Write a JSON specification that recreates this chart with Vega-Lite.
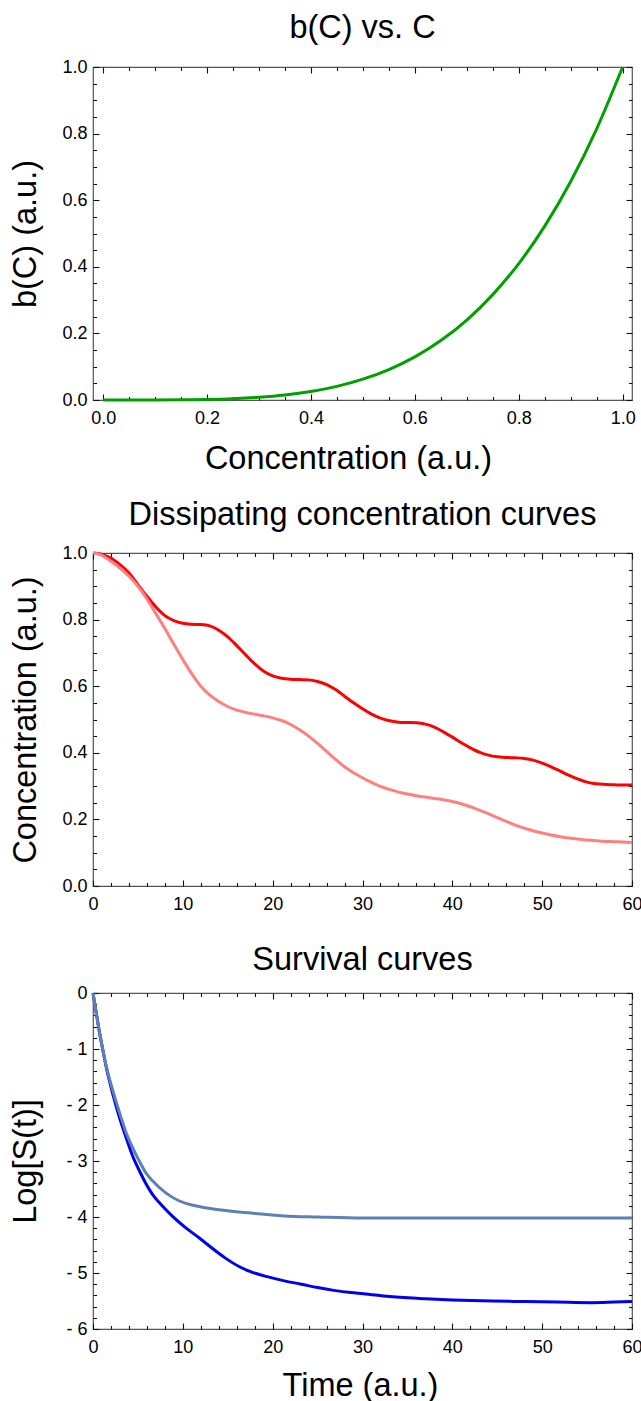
{
  "$schema": "https://vega.github.io/schema/vega-lite/v6.json",
  "padding": {"left": 9, "top": 11, "right": 0, "bottom": 0},
  "spacing": 21,
  "datasets": {
    "bc": [
      {"c": 0, "b": 0}, {"c": 0.05, "b": 0.00001}, {"c": 0.1, "b": 0.0001}, {"c": 0.15, "b": 0.0005},
      {"c": 0.2, "b": 0.0016}, {"c": 0.25, "b": 0.0039}, {"c": 0.3, "b": 0.0081}, {"c": 0.35, "b": 0.015},
      {"c": 0.4, "b": 0.0256}, {"c": 0.45, "b": 0.041}, {"c": 0.5, "b": 0.0625}, {"c": 0.55, "b": 0.0915},
      {"c": 0.6, "b": 0.1296}, {"c": 0.65, "b": 0.1785}, {"c": 0.7, "b": 0.2401}, {"c": 0.75, "b": 0.3164},
      {"c": 0.8, "b": 0.4096}, {"c": 0.85, "b": 0.522}, {"c": 0.9, "b": 0.6561}, {"c": 0.95, "b": 0.8145},
      {"c": 1.0, "b": 1.0}
    ],
    "conc": [
      {"t": 0, "v": 1.0, "s": "a"}, {"t": 1, "v": 0.996, "s": "a"}, {"t": 2, "v": 0.985, "s": "a"}, {"t": 3, "v": 0.965, "s": "a"},
      {"t": 4, "v": 0.94, "s": "a"}, {"t": 5, "v": 0.905, "s": "a"}, {"t": 6, "v": 0.87, "s": "a"}, {"t": 7, "v": 0.838, "s": "a"},
      {"t": 8, "v": 0.812, "s": "a"}, {"t": 9, "v": 0.797, "s": "a"}, {"t": 10, "v": 0.789, "s": "a"}, {"t": 11, "v": 0.786, "s": "a"},
      {"t": 12, "v": 0.785, "s": "a"}, {"t": 13, "v": 0.781, "s": "a"}, {"t": 14, "v": 0.768, "s": "a"}, {"t": 15, "v": 0.748, "s": "a"},
      {"t": 16, "v": 0.722, "s": "a"}, {"t": 17, "v": 0.694, "s": "a"}, {"t": 18, "v": 0.667, "s": "a"}, {"t": 19, "v": 0.645, "s": "a"},
      {"t": 20, "v": 0.631, "s": "a"}, {"t": 21, "v": 0.624, "s": "a"}, {"t": 22, "v": 0.621, "s": "a"}, {"t": 23, "v": 0.62, "s": "a"},
      {"t": 24, "v": 0.619, "s": "a"}, {"t": 25, "v": 0.614, "s": "a"}, {"t": 26, "v": 0.605, "s": "a"}, {"t": 27, "v": 0.59, "s": "a"},
      {"t": 28, "v": 0.57, "s": "a"}, {"t": 29, "v": 0.55, "s": "a"}, {"t": 30, "v": 0.532, "s": "a"}, {"t": 31, "v": 0.516, "s": "a"},
      {"t": 32, "v": 0.504, "s": "a"}, {"t": 33, "v": 0.496, "s": "a"}, {"t": 34, "v": 0.492, "s": "a"}, {"t": 35, "v": 0.491, "s": "a"},
      {"t": 36, "v": 0.49, "s": "a"}, {"t": 37, "v": 0.486, "s": "a"}, {"t": 38, "v": 0.477, "s": "a"}, {"t": 39, "v": 0.463, "s": "a"},
      {"t": 40, "v": 0.447, "s": "a"}, {"t": 41, "v": 0.43, "s": "a"}, {"t": 42, "v": 0.415, "s": "a"}, {"t": 43, "v": 0.402, "s": "a"},
      {"t": 44, "v": 0.393, "s": "a"}, {"t": 45, "v": 0.388, "s": "a"}, {"t": 46, "v": 0.386, "s": "a"}, {"t": 47, "v": 0.385, "s": "a"},
      {"t": 48, "v": 0.383, "s": "a"}, {"t": 49, "v": 0.378, "s": "a"}, {"t": 50, "v": 0.369, "s": "a"}, {"t": 51, "v": 0.358, "s": "a"},
      {"t": 52, "v": 0.345, "s": "a"}, {"t": 53, "v": 0.332, "s": "a"}, {"t": 54, "v": 0.321, "s": "a"}, {"t": 55, "v": 0.312, "s": "a"},
      {"t": 56, "v": 0.307, "s": "a"}, {"t": 57, "v": 0.305, "s": "a"}, {"t": 58, "v": 0.304, "s": "a"}, {"t": 59, "v": 0.303, "s": "a"},
      {"t": 60, "v": 0.303, "s": "a"},
      {"t": 0, "v": 1.0, "s": "b"}, {"t": 1, "v": 0.993, "s": "b"}, {"t": 2, "v": 0.975, "s": "b"}, {"t": 3, "v": 0.955, "s": "b"},
      {"t": 4, "v": 0.93, "s": "b"}, {"t": 5, "v": 0.9, "s": "b"}, {"t": 6, "v": 0.862, "s": "b"}, {"t": 7, "v": 0.818, "s": "b"},
      {"t": 8, "v": 0.773, "s": "b"}, {"t": 9, "v": 0.726, "s": "b"}, {"t": 10, "v": 0.68, "s": "b"}, {"t": 11, "v": 0.637, "s": "b"},
      {"t": 12, "v": 0.6, "s": "b"}, {"t": 13, "v": 0.573, "s": "b"}, {"t": 14, "v": 0.554, "s": "b"}, {"t": 15, "v": 0.539, "s": "b"},
      {"t": 16, "v": 0.528, "s": "b"}, {"t": 17, "v": 0.521, "s": "b"}, {"t": 18, "v": 0.516, "s": "b"}, {"t": 19, "v": 0.511, "s": "b"},
      {"t": 20, "v": 0.505, "s": "b"}, {"t": 21, "v": 0.497, "s": "b"}, {"t": 22, "v": 0.485, "s": "b"}, {"t": 23, "v": 0.469, "s": "b"},
      {"t": 24, "v": 0.45, "s": "b"}, {"t": 25, "v": 0.428, "s": "b"}, {"t": 26, "v": 0.404, "s": "b"}, {"t": 27, "v": 0.38, "s": "b"},
      {"t": 28, "v": 0.358, "s": "b"}, {"t": 29, "v": 0.34, "s": "b"}, {"t": 30, "v": 0.325, "s": "b"}, {"t": 31, "v": 0.311, "s": "b"},
      {"t": 32, "v": 0.299, "s": "b"}, {"t": 33, "v": 0.29, "s": "b"}, {"t": 34, "v": 0.282, "s": "b"}, {"t": 35, "v": 0.276, "s": "b"},
      {"t": 36, "v": 0.271, "s": "b"}, {"t": 37, "v": 0.267, "s": "b"}, {"t": 38, "v": 0.263, "s": "b"}, {"t": 39, "v": 0.259, "s": "b"},
      {"t": 40, "v": 0.254, "s": "b"}, {"t": 41, "v": 0.247, "s": "b"}, {"t": 42, "v": 0.238, "s": "b"}, {"t": 43, "v": 0.228, "s": "b"},
      {"t": 44, "v": 0.217, "s": "b"}, {"t": 45, "v": 0.205, "s": "b"}, {"t": 46, "v": 0.194, "s": "b"}, {"t": 47, "v": 0.183, "s": "b"},
      {"t": 48, "v": 0.174, "s": "b"}, {"t": 49, "v": 0.166, "s": "b"}, {"t": 50, "v": 0.159, "s": "b"}, {"t": 51, "v": 0.153, "s": "b"},
      {"t": 52, "v": 0.148, "s": "b"}, {"t": 53, "v": 0.144, "s": "b"}, {"t": 54, "v": 0.141, "s": "b"}, {"t": 55, "v": 0.138, "s": "b"},
      {"t": 56, "v": 0.136, "s": "b"}, {"t": 57, "v": 0.134, "s": "b"}, {"t": 58, "v": 0.133, "s": "b"}, {"t": 59, "v": 0.132, "s": "b"},
      {"t": 60, "v": 0.131, "s": "b"}
    ],
    "surv": [
      {"t": 0, "v": 0, "s": "a"}, {"t": 0.37, "v": -0.36, "s": "a"}, {"t": 0.74, "v": -0.72, "s": "a"}, {"t": 1.1, "v": -1.02, "s": "a"},
      {"t": 1.47, "v": -1.32, "s": "a"}, {"t": 2.2, "v": -1.8, "s": "a"}, {"t": 2.94, "v": -2.22, "s": "a"}, {"t": 3.68, "v": -2.58, "s": "a"},
      {"t": 4.41, "v": -2.91, "s": "a"}, {"t": 5.15, "v": -3.17, "s": "a"}, {"t": 5.88, "v": -3.4, "s": "a"}, {"t": 6.6, "v": -3.59, "s": "a"},
      {"t": 7.7, "v": -3.8, "s": "a"}, {"t": 8.8, "v": -3.98, "s": "a"}, {"t": 10.3, "v": -4.19, "s": "a"}, {"t": 11.8, "v": -4.37, "s": "a"},
      {"t": 13.2, "v": -4.55, "s": "a"}, {"t": 14.7, "v": -4.73, "s": "a"}, {"t": 16.2, "v": -4.88, "s": "a"}, {"t": 17.6, "v": -4.98, "s": "a"},
      {"t": 19.5, "v": -5.07, "s": "a"}, {"t": 21.3, "v": -5.14, "s": "a"}, {"t": 23.2, "v": -5.2, "s": "a"}, {"t": 25, "v": -5.26, "s": "a"},
      {"t": 26.8, "v": -5.31, "s": "a"}, {"t": 28.7, "v": -5.35, "s": "a"}, {"t": 30.1, "v": -5.37, "s": "a"}, {"t": 33, "v": -5.42, "s": "a"},
      {"t": 37, "v": -5.46, "s": "a"}, {"t": 40, "v": -5.48, "s": "a"}, {"t": 44.4, "v": -5.5, "s": "a"}, {"t": 48, "v": -5.51, "s": "a"},
      {"t": 51.7, "v": -5.52, "s": "a"}, {"t": 55.4, "v": -5.53, "s": "a"}, {"t": 58, "v": -5.52, "s": "a"}, {"t": 60, "v": -5.51, "s": "a"},
      {"t": 0, "v": 0, "s": "b"}, {"t": 0.37, "v": -0.36, "s": "b"}, {"t": 0.74, "v": -0.72, "s": "b"}, {"t": 1.1, "v": -1.02, "s": "b"},
      {"t": 1.47, "v": -1.3, "s": "b"}, {"t": 2.2, "v": -1.74, "s": "b"}, {"t": 2.94, "v": -2.13, "s": "b"}, {"t": 3.68, "v": -2.49, "s": "b"},
      {"t": 4.41, "v": -2.76, "s": "b"}, {"t": 5.15, "v": -3.0, "s": "b"}, {"t": 5.88, "v": -3.21, "s": "b"}, {"t": 6.6, "v": -3.35, "s": "b"},
      {"t": 8.1, "v": -3.57, "s": "b"}, {"t": 9.56, "v": -3.71, "s": "b"}, {"t": 11.4, "v": -3.8, "s": "b"}, {"t": 14, "v": -3.87, "s": "b"},
      {"t": 17.6, "v": -3.93, "s": "b"}, {"t": 21.3, "v": -3.98, "s": "b"}, {"t": 25, "v": -4.0, "s": "b"}, {"t": 30, "v": -4.02, "s": "b"},
      {"t": 40, "v": -4.02, "s": "b"}, {"t": 50, "v": -4.02, "s": "b"}, {"t": 60, "v": -4.02, "s": "b"}
    ]
  },
  "config": {
    "font": "Liberation Sans",
    "view": {"stroke": "#555555", "strokeWidth": 1.2},
    "axis": {
      "grid": false, "domain": false, "ticks": true,
      "labelFont": "Liberation Sans", "labelFontSize": 18, "labelColor": "#000000",
      "titleFont": "Liberation Sans", "titleFontSize": 32.5, "titleFontWeight": "normal", "titleColor": "#000000",
      "tickColor": "#111111", "tickWidth": 1.1, "tickOpacity": 1,
      "labelFlush": false, "labelOverlap": false, "labelBound": false
    },
    "title": {"font": "Liberation Sans", "fontSize": 32.5, "fontWeight": "normal", "color": "#000000", "anchor": "middle", "frame": "group"}
  },
  "vconcat": [
    {
      "width": 539, "height": 333,
      "title": {"text": "b(C) vs. C", "offset": 13.5},
      "data": {"name": "bc"},
      "resolve": {"axis": {"x": "independent", "y": "independent"}},
      "layer": [
        {
          "mark": {"type": "line", "color": "#00a000", "strokeWidth": 3, "interpolate": "monotone"},
          "encoding": {
            "x": {"field": "c", "type": "quantitative", "scale": {"domain": [-0.0196, 1.018], "nice": false, "zero": false},
                  "axis": {"orient": "bottom", "offset": -6, "values": [0, 0.2, 0.4, 0.6, 0.8, 1], "format": ".1f", "tickSize": 6, "labelPadding": 9, "minExtent": 0, "title": "Concentration (a.u.)", "titlePadding": 15, "titleX": 255}},
            "y": {"field": "b", "type": "quantitative", "scale": {"domain": [0, 1], "nice": false, "zero": false},
                  "axis": {"orient": "left", "offset": -6, "values": [0, 0.2, 0.4, 0.6, 0.8, 1], "format": ".1f", "tickSize": 6, "labelPadding": 6, "minExtent": 30, "title": "b(C) (a.u.)", "titlePadding": 19}}
          }
        },
        {
          "mark": {"type": "line", "opacity": 0},
          "encoding": {
            "x": {"field": "c", "type": "quantitative", "scale": {"domain": [-0.0196, 1.018], "nice": false, "zero": false},
                  "axis": {"orient": "top", "offset": -6, "values": [0, 0.2, 0.4, 0.6, 0.8, 1], "labels": false, "title": null, "tickSize": 6, "minExtent": 0}},
            "y": {"field": "b", "type": "quantitative", "scale": {"domain": [0, 1], "nice": false, "zero": false},
                  "axis": {"orient": "right", "offset": -6, "values": [0, 0.2, 0.4, 0.6, 0.8, 1], "labels": false, "title": null, "tickSize": 6, "minExtent": 0}}
          }
        },
        {
          "mark": {"type": "line", "opacity": 0},
          "encoding": {
            "x": {"field": "c", "type": "quantitative", "scale": {"domain": [-0.0196, 1.018], "nice": false, "zero": false},
                  "axis": {"orient": "bottom", "offset": -3.5, "values": [0.05, 0.1, 0.15, 0.25, 0.3, 0.35, 0.45, 0.5, 0.55, 0.65, 0.7, 0.75, 0.85, 0.9, 0.95], "labels": false, "title": null, "tickSize": 3.5, "minExtent": 0}},
            "y": {"field": "b", "type": "quantitative", "scale": {"domain": [0, 1], "nice": false, "zero": false},
                  "axis": {"orient": "left", "offset": -3.5, "values": [0.05, 0.1, 0.15, 0.25, 0.3, 0.35, 0.45, 0.5, 0.55, 0.65, 0.7, 0.75, 0.85, 0.9, 0.95], "labels": false, "title": null, "tickSize": 3.5, "minExtent": 0}}
          }
        },
        {
          "mark": {"type": "line", "opacity": 0},
          "encoding": {
            "x": {"field": "c", "type": "quantitative", "scale": {"domain": [-0.0196, 1.018], "nice": false, "zero": false},
                  "axis": {"orient": "top", "offset": -3.5, "values": [0.05, 0.1, 0.15, 0.25, 0.3, 0.35, 0.45, 0.5, 0.55, 0.65, 0.7, 0.75, 0.85, 0.9, 0.95], "labels": false, "title": null, "tickSize": 3.5, "minExtent": 0}},
            "y": {"field": "b", "type": "quantitative", "scale": {"domain": [0, 1], "nice": false, "zero": false},
                  "axis": {"orient": "right", "offset": -3.5, "values": [0.05, 0.1, 0.15, 0.25, 0.3, 0.35, 0.45, 0.5, 0.55, 0.65, 0.7, 0.75, 0.85, 0.9, 0.95], "labels": false, "title": null, "tickSize": 3.5, "minExtent": 0}}
          }
        }
      ]
    },
    {
      "width": 539, "height": 333,
      "title": {"text": "Dissipating concentration curves", "offset": 13},
      "data": {"name": "conc"},
      "resolve": {"axis": {"x": "independent", "y": "independent"}},
      "layer": [
        {
          "transform": [{"filter": "datum.s == 'a'"}],
          "mark": {"type": "line", "color": "#ff0000", "strokeWidth": 3, "interpolate": "monotone"},
          "encoding": {
            "x": {"field": "t", "type": "quantitative", "scale": {"domain": [0, 60], "nice": false, "zero": false},
                  "axis": {"orient": "bottom", "offset": -6, "values": [0, 10, 20, 30, 40, 50, 60], "format": "d", "tickSize": 6, "labelPadding": 9, "minExtent": 0, "title": ".", "titleColor": "#ffffff", "titleFontSize": 7, "titlePadding": 0}},
            "y": {"field": "v", "type": "quantitative", "scale": {"domain": [0, 1], "nice": false, "zero": false},
                  "axis": {"orient": "left", "offset": -6, "values": [0, 0.2, 0.4, 0.6, 0.8, 1], "format": ".1f", "tickSize": 6, "labelPadding": 6, "minExtent": 30, "title": "Concentration (a.u.)", "titlePadding": 19}}
          }
        },
        {
          "transform": [{"filter": "datum.s == 'b'"}],
          "mark": {"type": "line", "color": "#ff8080", "strokeWidth": 3, "interpolate": "monotone"},
          "encoding": {
            "x": {"field": "t", "type": "quantitative", "scale": {"domain": [0, 60], "nice": false, "zero": false},
                  "axis": {"orient": "top", "offset": -6, "values": [0, 10, 20, 30, 40, 50, 60], "labels": false, "title": null, "tickSize": 6, "minExtent": 0}},
            "y": {"field": "v", "type": "quantitative", "scale": {"domain": [0, 1], "nice": false, "zero": false},
                  "axis": {"orient": "right", "offset": -6, "values": [0, 0.2, 0.4, 0.6, 0.8, 1], "labels": false, "title": null, "tickSize": 6, "minExtent": 0}}
          }
        },
        {
          "mark": {"type": "line", "opacity": 0},
          "encoding": {
            "x": {"field": "t", "type": "quantitative", "scale": {"domain": [0, 60], "nice": false, "zero": false},
                  "axis": {"orient": "bottom", "offset": -3.5, "values": [2, 4, 6, 8, 12, 14, 16, 18, 22, 24, 26, 28, 32, 34, 36, 38, 42, 44, 46, 48, 52, 54, 56, 58], "labels": false, "title": null, "tickSize": 3.5, "minExtent": 0}},
            "y": {"field": "v", "type": "quantitative", "scale": {"domain": [0, 1], "nice": false, "zero": false},
                  "axis": {"orient": "left", "offset": -3.5, "values": [0.05, 0.1, 0.15, 0.25, 0.3, 0.35, 0.45, 0.5, 0.55, 0.65, 0.7, 0.75, 0.85, 0.9, 0.95], "labels": false, "title": null, "tickSize": 3.5, "minExtent": 0}}
          }
        },
        {
          "mark": {"type": "line", "opacity": 0},
          "encoding": {
            "x": {"field": "t", "type": "quantitative", "scale": {"domain": [0, 60], "nice": false, "zero": false},
                  "axis": {"orient": "top", "offset": -3.5, "values": [2, 4, 6, 8, 12, 14, 16, 18, 22, 24, 26, 28, 32, 34, 36, 38, 42, 44, 46, 48, 52, 54, 56, 58], "labels": false, "title": null, "tickSize": 3.5, "minExtent": 0}},
            "y": {"field": "v", "type": "quantitative", "scale": {"domain": [0, 1], "nice": false, "zero": false},
                  "axis": {"orient": "right", "offset": -3.5, "values": [0.05, 0.1, 0.15, 0.25, 0.3, 0.35, 0.45, 0.5, 0.55, 0.65, 0.7, 0.75, 0.85, 0.9, 0.95], "labels": false, "title": null, "tickSize": 3.5, "minExtent": 0}}
          }
        }
      ]
    },
    {
      "width": 539, "height": 336,
      "title": {"text": "Survival curves", "offset": 8},
      "data": {"name": "surv"},
      "resolve": {"axis": {"x": "independent", "y": "independent"}},
      "layer": [
        {
          "transform": [{"filter": "datum.s == 'a'"}],
          "mark": {"type": "line", "color": "#0000f0", "strokeWidth": 3, "interpolate": "monotone"},
          "encoding": {
            "x": {"field": "t", "type": "quantitative", "scale": {"domain": [0, 60], "nice": false, "zero": false},
                  "axis": {"orient": "bottom", "offset": -6, "values": [0, 10, 20, 30, 40, 50, 60], "format": "d", "tickSize": 6, "labelPadding": 9, "minExtent": 0, "title": "Time (a.u.)", "titlePadding": 13, "titleX": 267}},
            "y": {"field": "v", "type": "quantitative", "scale": {"domain": [-6, 0], "nice": false, "zero": false},
                  "axis": {"orient": "left", "offset": -6, "values": [-6, -5, -4, -3, -2, -1, 0], "labelExpr": "datum.value == 0 ? '0' : '- ' + format(-datum.value, 'd')", "tickSize": 6, "labelPadding": 6, "minExtent": 30, "title": "Log[S(t)]", "titlePadding": 23}}
          }
        },
        {
          "transform": [{"filter": "datum.s == 'b'"}],
          "mark": {"type": "line", "color": "#5e81b5", "strokeWidth": 3, "interpolate": "monotone"},
          "encoding": {
            "x": {"field": "t", "type": "quantitative", "scale": {"domain": [0, 60], "nice": false, "zero": false},
                  "axis": {"orient": "top", "offset": -6, "values": [0, 10, 20, 30, 40, 50, 60], "labels": false, "title": null, "tickSize": 6, "minExtent": 0}},
            "y": {"field": "v", "type": "quantitative", "scale": {"domain": [-6, 0], "nice": false, "zero": false},
                  "axis": {"orient": "right", "offset": -6, "values": [-6, -5, -4, -3, -2, -1, 0], "labels": false, "title": null, "tickSize": 6, "minExtent": 0}}
          }
        },
        {
          "mark": {"type": "line", "opacity": 0},
          "encoding": {
            "x": {"field": "t", "type": "quantitative", "scale": {"domain": [0, 60], "nice": false, "zero": false},
                  "axis": {"orient": "bottom", "offset": -3.5, "values": [2, 4, 6, 8, 12, 14, 16, 18, 22, 24, 26, 28, 32, 34, 36, 38, 42, 44, 46, 48, 52, 54, 56, 58], "labels": false, "title": null, "tickSize": 3.5, "minExtent": 0}},
            "y": {"field": "v", "type": "quantitative", "scale": {"domain": [-6, 0], "nice": false, "zero": false},
                  "axis": {"orient": "left", "offset": -3.5, "values": [-5.8, -5.6, -5.4, -5.2, -4.8, -4.6, -4.4, -4.2, -3.8, -3.6, -3.4, -3.2, -2.8, -2.6, -2.4, -2.2, -1.8, -1.6, -1.4, -1.2, -0.8, -0.6, -0.4, -0.2], "labels": false, "title": null, "tickSize": 3.5, "minExtent": 0}}
          }
        },
        {
          "mark": {"type": "line", "opacity": 0},
          "encoding": {
            "x": {"field": "t", "type": "quantitative", "scale": {"domain": [0, 60], "nice": false, "zero": false},
                  "axis": {"orient": "top", "offset": -3.5, "values": [2, 4, 6, 8, 12, 14, 16, 18, 22, 24, 26, 28, 32, 34, 36, 38, 42, 44, 46, 48, 52, 54, 56, 58], "labels": false, "title": null, "tickSize": 3.5, "minExtent": 0}},
            "y": {"field": "v", "type": "quantitative", "scale": {"domain": [-6, 0], "nice": false, "zero": false},
                  "axis": {"orient": "right", "offset": -3.5, "values": [-5.8, -5.6, -5.4, -5.2, -4.8, -4.6, -4.4, -4.2, -3.8, -3.6, -3.4, -3.2, -2.8, -2.6, -2.4, -2.2, -1.8, -1.6, -1.4, -1.2, -0.8, -0.6, -0.4, -0.2], "labels": false, "title": null, "tickSize": 3.5, "minExtent": 0}}
          }
        }
      ]
    }
  ]
}
